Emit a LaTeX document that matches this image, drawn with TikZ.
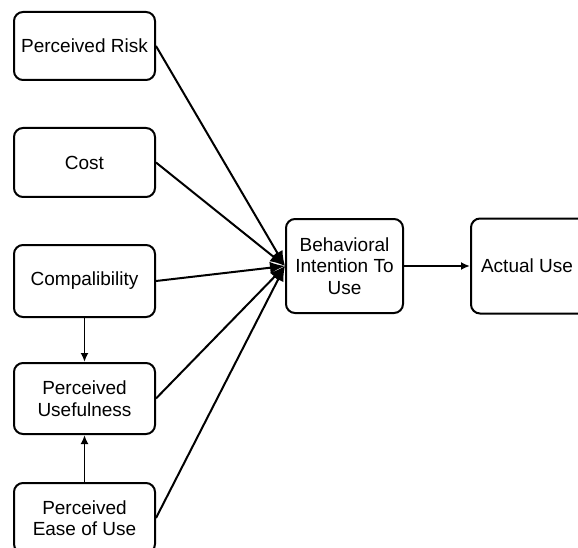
\documentclass[tikz,border=0pt]{standalone}
\usepackage{fontspec}
\setmainfont{Liberation Sans}
\usetikzlibrary{arrows.meta}
\begin{document}
\begin{tikzpicture}[x=1pt,y=-1pt,
  factor/.style={draw, line width=2pt, rounded corners=9pt, minimum width=141pt,
    align=center, font=\fontsize{19}{21.5}\selectfont, inner sep=2pt},
  link/.style={line width=2pt, -{Latex[length=15pt,width=12pt]}},
  small/.style={line width=1.8pt, -{Latex[length=9pt,width=8pt]}}]
  \useasboundingbox[fill=white] (0,0) rectangle (578,548);

  \node[factor, minimum height=68pt] (risk) at (84.5,46) {Perceived Risk};
  \node[factor, minimum height=69pt] (cost) at (84.5,162.5) {Cost};
  \node[factor, minimum height=72pt] (compat) at (84.5,281) {Compalibility};
  \node[factor, minimum height=71pt] (pu) at (84.5,398.5) {Perceived\\Usefulness};
  \node[factor, minimum height=70pt] (peou) at (84.5,518) {Perceived\\Ease of Use};
  \node[factor, minimum width=117pt, minimum height=94pt] (bi) at (344.5,266) {Behavioral\\Intention To\\Use};
  \node[factor, minimum width=140pt, minimum height=95pt, anchor=west] (use) at (470,266) {\hspace*{-28pt}Actual Use};

  \coordinate (hub) at (bi.west);
  \draw[link] (risk.east) -- (hub);
  \draw[link] (cost.east) -- (hub);
  \draw[link] (compat.east) -- (hub);
  \draw[link] (pu.east) -- (hub);
  \draw[link] (peou.east) -- (hub);

  \draw[small] (bi.east) -- (use.west);
  \draw[small] (compat.south) -- (pu.north);
  \draw[small] (peou.north) -- (pu.south);
\end{tikzpicture}
\end{document}
